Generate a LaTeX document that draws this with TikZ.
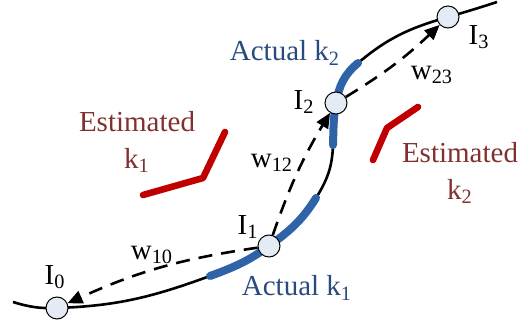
\documentclass[tikz,border=0pt]{standalone}
\usepackage{fontspec}
\setmainfont{Liberation Serif}
\usetikzlibrary{arrows.meta}
\definecolor{curveblue}{RGB}{46,99,168}
\definecolor{textblue}{RGB}{40,75,125}
\definecolor{estred}{RGB}{192,0,0}
\definecolor{esttext}{RGB}{128,48,48}
\definecolor{pointfill}{RGB}{228,235,245}
\begin{document}
\begin{tikzpicture}[x=0.5pt, y=0.5pt, track/.style={line width=1.3pt}, actual/.style={line width=4pt, curveblue, line cap=round}, estim/.style={line width=3.3pt, estred, line cap=round, line join=round}, pnt/.style={circle, draw, line width=0.5pt, fill=pointfill, minimum size=11pt, inner sep=0pt}, lbl/.style={font=\fontsize{14.5}{18.5}\selectfont, inner sep=0pt, align=center}, link/.style={dash pattern=on 7pt off 4.5pt, line width=1.3pt, -{Triangle[length=7.5pt,width=6.5pt]}}]
\useasboundingbox (0,0) rectangle (524,327);
% points along the trajectory
\coordinate (c0) at (13,25); \coordinate (q0) at (57,19); \coordinate (b1) at (210,51); \coordinate (q1) at (269,81); \coordinate (b2) at (316,129);
\coordinate (b3) at (333,182); \coordinate (q2) at (336,224); \coordinate (b4) at (358,264); \coordinate (q3) at (448,310); \coordinate (c1) at (497,325);
\draw[track] (c0) to[out=-17,in=182] (q0) to[out=2,in=200] (b1) to[out=20,in=216] (q1) to[out=36,in=238] (b2) to[out=58,in=268] (b3) to[out=88,in=260] (q2) to[out=80,in=220] (b4) to[out=40,in=196] (q3) to[out=16,in=198] (c1);
\draw[actual] (b1) to[out=20,in=216] (q1) to[out=36,in=238] (b2);
\draw[actual] (b3) to[out=88,in=260] (q2) to[out=80,in=220] (b4);
\draw[estim] (143,132) -- (203,149) -- (225,195);
\draw[estim] (373,167) -- (387,199) -- (418,220);
\node[pnt] (i0) at (q0) {}; \node[pnt] (i1) at (q1) {}; \node[pnt] (i2) at (q2) {}; \node[pnt] (i3) at (q3) {};
\draw[link] (i1) to[bend right=8] (i0); \draw[link] (i1) to[bend left=6] (i2); \draw[link] (i2) to[bend right=6] (i3);
\node[lbl] (l0) at (55,50) {I\textsubscript{0}}; \node[lbl] (l1) at (248,100) {I\textsubscript{1}}; \node[lbl] (l2) at (304,225) {I\textsubscript{2}}; \node[lbl] (l3) at (479,290) {I\textsubscript{3}};
\node[lbl] (w10) at (152,72) {w\textsubscript{10}}; \node[lbl] (w12) at (272,164) {w\textsubscript{12}}; \node[lbl] (w23) at (432,252) {w\textsubscript{23}};
\node[lbl, textblue] (ak1) at (297,39) {Actual k\textsubscript{1}}; \node[lbl, textblue] (ak2) at (285,274) {Actual k\textsubscript{2}};
\node[lbl, esttext] (ek1) at (137,185) {Estimated\\k\textsubscript{1}}; \node[lbl, esttext] (ek2) at (460,154) {Estimated\\k\textsubscript{2}};
\end{tikzpicture}
\end{document}
